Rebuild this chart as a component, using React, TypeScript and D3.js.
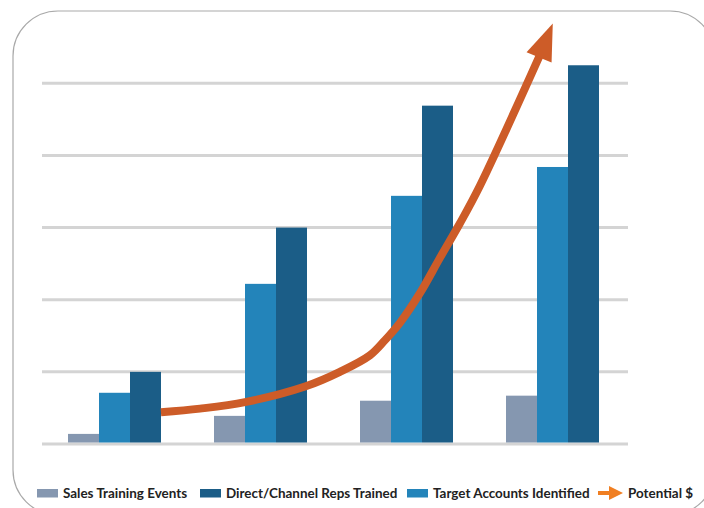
import React from "react";
import * as d3 from "d3";

const categories = ["Stage 1", "Stage 2", "Stage 3", "Stage 4"];
const seriesNames = ["Sales Training Events", "Target Accounts Identified", "Direct/Channel Reps Trained"];
const salesTraining = [0.14, 0.39, 0.6, 0.67];
const targetAccounts = [0.71, 2.22, 3.44, 3.84];
const repsTrained = [1.0, 3.0, 4.69, 5.25];
const seriesColors = ["#8597b0", "#2384ba", "#1b5d87"];
const yTicks = [0, 1, 2, 3, 4, 5];

// Potential $ trend: x in category-index units, y in value units
const potentialX = [0.318, 0.586, 0.894, 1.31, 1.544, 1.75, 1.853, 1.955, 2.092, 2.229, 2.366, 2.503, 2.908];
const potentialY = [0.44, 0.49, 0.58, 0.8, 1.0, 1.23, 1.44, 1.68, 2.09, 2.58, 3.06, 3.58, 5.36];
const potentialTip = [3.002, 5.83];

const legendItems = [
  { label: "Sales Training Events", color: "#8597b0", kind: "rect" },
  { label: "Direct/Channel Reps Trained", color: "#1b5d87", kind: "rect" },
  { label: "Target Accounts Identified", color: "#2384ba", kind: "rect" },
  { label: "Potential $", color: "#f07f22", kind: "arrow" },
];

const W = 704;
const H = 508;

export default function App() {
  const x = d3.scaleBand<string>().domain(categories).range([41.5, 625.5]).padding(0);
  const xs = d3.scaleBand<string>().domain(seriesNames).range([0, 93]).padding(0);
  const y = d3.scaleLinear().domain([0, 5]).range([444, 83.3]);
  const values = [salesTraining, targetAccounts, repsTrained];
  const bw = x.bandwidth();
  const xIdx = d3
    .scaleLinear()
    .domain([0, categories.length - 1])
    .range([(x(categories[0]) as number) + bw / 2, (x(categories[categories.length - 1]) as number) + bw / 2]);

  const pts: [number, number][] = potentialX.map((v, i) => [xIdx(v), y(potentialY[i])]);
  const line = d3.line().curve(d3.curveCatmullRom.alpha(0.5));
  const tip: [number, number] = [xIdx(potentialTip[0]), y(potentialTip[1])];
  const base = pts[pts.length - 1];
  const dx = tip[0] - base[0];
  const dy = tip[1] - base[1];
  const len = Math.hypot(dx, dy);
  const nx = -dy / len;
  const ny = dx / len;
  const hw = 13.5;
  const head = [
    [tip[0], tip[1]],
    [base[0] + nx * hw, base[1] + ny * hw],
    [base[0] - nx * hw, base[1] - ny * hw],
  ];
  const shaftPts = [...pts.slice(0, -1), [base[0] + (dx / len) * 4, base[1] + (dy / len) * 4] as [number, number]];

  const legendX = [37, 200, 407, 598];

  return (
    <svg
      width={W}
      height={H}
      style={{ position: "absolute", left: 0, top: 0, background: "#fff" }}
      fontFamily="Lato, 'Open Sans', sans-serif"
    >
      <rect x={13} y={11} width={702} height={504} rx={45} ry={45} fill="#fff" stroke="#a9a9a9" strokeWidth={1.2} />
      {yTicks.map((t) => (
        <line key={t} x1={42} x2={628} y1={y(t)} y2={y(t)} stroke="#d4d4d4" strokeWidth={3} />
      ))}
      {categories.map((c, ci) => (
        <g key={c} transform={`translate(${(x(c) as number) + (bw - 93) / 2},0)`}>
          {seriesNames.map((s, si) => (
            <rect
              key={s}
              x={xs(s)}
              width={xs.bandwidth()}
              y={y(values[si][ci])}
              height={y(0) - y(values[si][ci]) - 1.5}
              fill={seriesColors[si]}
            />
          ))}
        </g>
      ))}
      <path d={line(shaftPts) || ""} fill="none" stroke="#cd5c28" strokeWidth={8} strokeLinecap="butt" />
      <polygon points={head.map((p) => p.join(",")).join(" ")} fill="#cd5c28" />
      {legendItems.map((it, i) => (
        <g key={it.label} transform={`translate(${legendX[i]},493)`}>
          {it.kind === "rect" ? (
            <rect x={0} y={-4} width={21} height={8.5} fill={it.color} />
          ) : (
            <g>
              <rect x={0} y={-2} width={12} height={4} fill={it.color} />
              <polygon points="11,-7 25,0 11,7" fill={it.color} />
            </g>
          )}
          <text x={it.kind === "rect" ? 26 : 30} y={0} dy="0.36em" fontSize={13.45} fontWeight={700} fill="#222">
            {it.label}
          </text>
        </g>
      ))}
    </svg>
  );
}
